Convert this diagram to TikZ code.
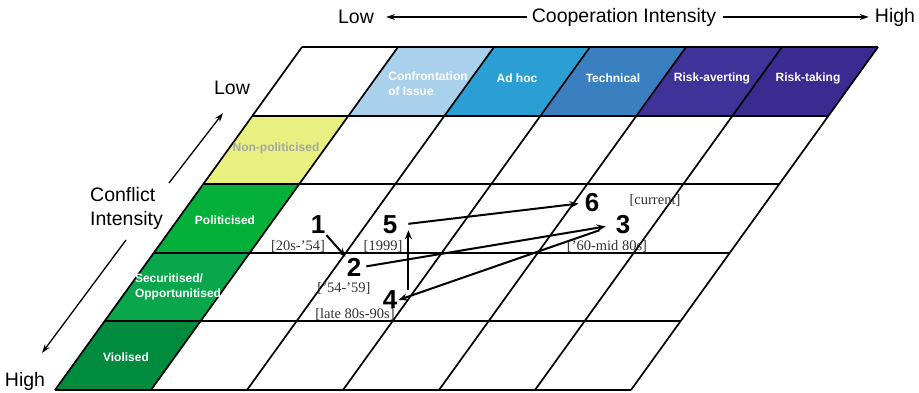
\documentclass[tikz,border=0pt]{standalone}
\usepackage{fontspec}
\setmainfont{Liberation Serif}
\setsansfont{Liberation Sans}
\usepackage{xcolor}
\usetikzlibrary{calc,arrows.meta}
\definecolor{confr}{HTML}{AAD1EB}
\definecolor{adhoc}{HTML}{2B9FD3}
\definecolor{techn}{HTML}{3A80C0}
\definecolor{riskav}{HTML}{3F3399}
\definecolor{risktk}{HTML}{3B2A8F}
\definecolor{nonpol}{HTML}{E8F080}
\definecolor{polit}{HTML}{05B03A}
\definecolor{secur}{HTML}{0AA64C}
\definecolor{viol}{HTML}{008B3E}
\definecolor{datecol}{HTML}{333333}
\tikzset{
  rowline/.style={draw=black, line width=2pt},
  colline/.style={draw=black, line width=1.7pt},
  celltxt/.style={text=white, font=\sffamily\bfseries\fontsize{12}{15}\selectfont, align=left, inner sep=1pt},
  numtxt/.style={font=\sffamily\bfseries\fontsize{26}{26}\selectfont, inner sep=1pt},
  datetxt/.style={font=\fontsize{14.5}{15}\selectfont, text=datecol, inner sep=0pt},
  axtxt/.style={font=\sffamily\fontsize{19.5}{24}\selectfont, inner sep=2pt},
  flow/.style={-{Stealth[length=9pt,width=7pt]}, line width=2pt},
  axarrow/.style={-{Stealth[length=9pt,width=6pt]}, line width=1.3pt},
}

\begin{document}
\begin{tikzpicture}[x=1pt,y=-1pt]
  \fill[white] (0,0) rectangle (919,393);
  \useasboundingbox (0,0) rectangle (919,393);

  % coloured heading cells
  \foreach \i/\j/\c in {1/0/confr,2/0/adhoc,3/0/techn,4/0/riskav,5/0/risktk,
                        0/1/nonpol,0/2/polit,0/3/secur,0/4/viol}
    \fill[\c] ({302+96*\i-49.4*\j},{47+68.6*\j}) -- ++(96,0) -- ++(-49.4,68.6) -- ++(-96,0) -- cycle;

  % grid lines
  \foreach \i in {0,...,6}
    \draw[colline] ({302+96*\i},47) -- ++(-247,343);
  \foreach \j in {0,...,5}
    \draw[rowline] ({302-49.4*\j},{47+68.6*\j}) -- ++(576,0);

  % column labels
  \node[celltxt] (confr) at (428,84) {Confrontation\\of Issue};
  \node[celltxt] (adhoc) at (517,78) {Ad hoc};
  \node[celltxt] (techn) at (613,78) {Technical};
  \node[celltxt] (riskav) at (712,78) {Risk-averting};
  \node[celltxt] (risktk) at (808,78) {Risk-taking};

  % row labels
  \node[celltxt, text=black!35] (nonpol) at (276,148) {Non-politicised};
  \node[celltxt] (polit) at (225,220) {Politicised};
  \node[celltxt] (secur) at (178,287) {Securitised/\\Opportunitised};
  \node[celltxt] (viol) at (126,357) {Violised};

  % axes
  \node[axtxt] (coop) at (624,17) {Cooperation Intensity};
  \node[axtxt] (lowc) at (356,17) {Low};
  \node[axtxt] (highc) at (895,17) {High};
  \draw[axarrow, shorten <=3pt, shorten >=10pt] (coop.west) -- (lowc.east);
  \draw[axarrow, shorten <=5pt, shorten >=4pt] (coop.east) -- (highc.west);

  \node[axtxt, align=left, anchor=west] (confl) at (88,208) {Conflict\\Intensity};
  \node[axtxt] (lowf) at (232,88) {Low};
  \node[axtxt] (highf) at (25,381) {High};
  \coordinate (upS) at (169,183);
  \coordinate (upE) at (223,113);
  \coordinate (dnS) at (126,240);
  \coordinate (dnE) at (42,353);
  \draw[axarrow] (upS) -- (upE);
  \draw[axarrow] (dnS) -- (dnE);

  % phases
  \node[numtxt] (n1) at (318,225) {1};
  \node[numtxt] (n2) at (354,267) {2};
  \node[numtxt] (n3) at (623,225) {3};
  \node[numtxt] (n4) at (390,300) {4};
  \node[numtxt] (n5) at (390,225) {5};
  \node[numtxt] (n6) at (592,203) {6};
  \node[datetxt] (d1) at (298,246) {[20s-’54]};
  \node[datetxt] (d2) at (344,288) {[’54-’59]};
  \node[datetxt] (d3) at (607,246) {[’60-mid 80s]};
  \node[datetxt] (d4) at (355,314) {[late 80s-90s]};
  \node[datetxt] (d5) at (383,246) {[1999]};
  \node[datetxt] (d6) at (655,200) {[current]};

  \draw[flow] (n1.south east) -- (n2.north west);
  \draw[flow, shorten <=4pt, shorten >=9pt] (n2.east) -- (n3.west);
  \draw[flow, shorten <=16pt] (n3.west) -- (n4.east);
  \draw[flow] ([xshift=10pt]n4.north east) -- ([xshift=10pt,yshift=5pt]n4.north east |- n5.south);
  \draw[flow, shorten <=10pt, shorten >=5pt] (n5.east) -- (n6.west);
\end{tikzpicture}
\end{document}
